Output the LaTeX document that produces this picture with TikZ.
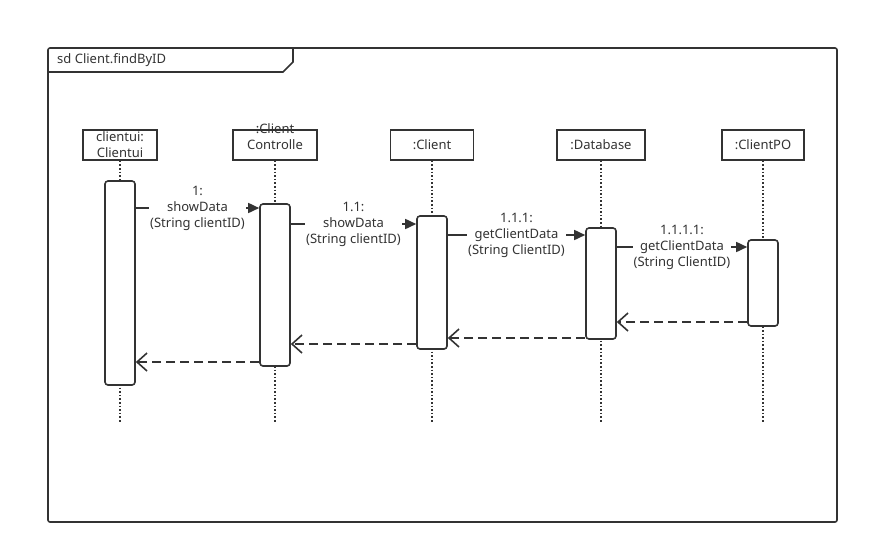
\documentclass[tikz,border=0pt]{standalone}
\usepackage{fontspec}
\setmainfont{Noto Sans}
\usepackage{tikz}
\usepackage{xcolor}
\usetikzlibrary{arrows.meta,positioning}
\definecolor{umlgray}{RGB}{51,51,51}

\begin{document}
\begin{tikzpicture}[x=1pt, y=-1pt, font=\fontsize{13}{16}\selectfont,
    every node/.style={text=umlgray},
    head/.style={draw=umlgray, line width=1.6pt, fill=white, minimum height=30pt, inner sep=0pt, align=center},
    act/.style={draw=umlgray, line width=1.6pt, fill=white, rounded corners=3pt, minimum width=30pt},
    life/.style={umlgray, line width=1.6pt, dotted},
    msg/.style={umlgray, line width=1.6pt, -{Triangle[length=11pt, width=10pt]}},
    ret/.style={umlgray, line width=1.6pt, dash pattern=on 9pt off 5pt, -{Straight Barb[length=10pt, width=18pt]}},
    lbl/.style={fill=white, align=center, inner sep=1pt}]
    \useasboundingbox (0,0) rectangle (869,555);

    % frame
    \draw[umlgray, line width=1.6pt, rounded corners=2pt] (48,48) rectangle (837,522);
    \draw[umlgray, line width=1.6pt] (48,72) -- (283,72) -- (293,62) -- (293,48);
    \node[anchor=west, inner sep=0pt] (title) at (57,60) {sd Client.findByID};

    % lifeline heads
    \node[head, minimum width=74pt] (h1) at (120,145) {clientui:\\Clientui};
    \node[head, minimum width=84pt, label={[yshift=8pt, align=center, inner sep=0pt]center:{:Client\\Controlle}}] (h2) at (275,145) {};
    \node[head, minimum width=83pt] (h3) at (432,145) {:Client};
    \node[head, minimum width=88pt] (h4) at (601,145) {:Database};
    \node[head, minimum width=82pt] (h5) at (763,145) {:ClientPO};

    \coordinate (end) at (0,422);
    \foreach \h in {h1,h2,h3,h4,h5}
        \draw[life] (\h.south) -- (\h.south |- end);

    % activations
    \node[act, minimum height=204pt] (a1) at (120,283) {};
    \node[act, minimum height=162pt] (a2) at (275,285) {};
    \node[act, minimum height=133pt] (a3) at (432,282.5) {};
    \node[act, minimum height=111pt] (a4) at (601,283.5) {};
    \node[act, minimum height=86pt] (a5) at (763,283) {};

    % calls
    \coordinate (m1) at (0,208);
    \coordinate (m2) at (0,224);
    \coordinate (m3) at (0,235);
    \coordinate (m4) at (0,247);
    \draw[msg] (a1.east |- m1) -- (a2.west |- m1) node[lbl, midway] {1:\\showData\\(String clientID)};
    \draw[msg] (a2.east |- m2) -- (a3.west |- m2) node[lbl, midway] {1.1:\\showData\\(String clientID)};
    \draw[msg] (a3.east |- m3) -- (a4.west |- m3) node[lbl, midway] {1.1.1:\\getClientData\\(String ClientID)};
    \draw[msg] (a4.east |- m4) -- (a5.west |- m4) node[lbl, midway] {1.1.1.1:\\getClientData\\(String ClientID)};

    % returns
    \coordinate (r1) at (0,322);
    \coordinate (r2) at (0,338);
    \coordinate (r3) at (0,344);
    \coordinate (r4) at (0,362);
    \draw[ret] (a5.west |- r1) -- (a4.east |- r1);
    \draw[ret] (a4.west |- r2) -- (a3.east |- r2);
    \draw[ret] (a3.west |- r3) -- (a2.east |- r3);
    \draw[ret] (a2.west |- r4) -- (a1.east |- r4);
\end{tikzpicture}
\end{document}
